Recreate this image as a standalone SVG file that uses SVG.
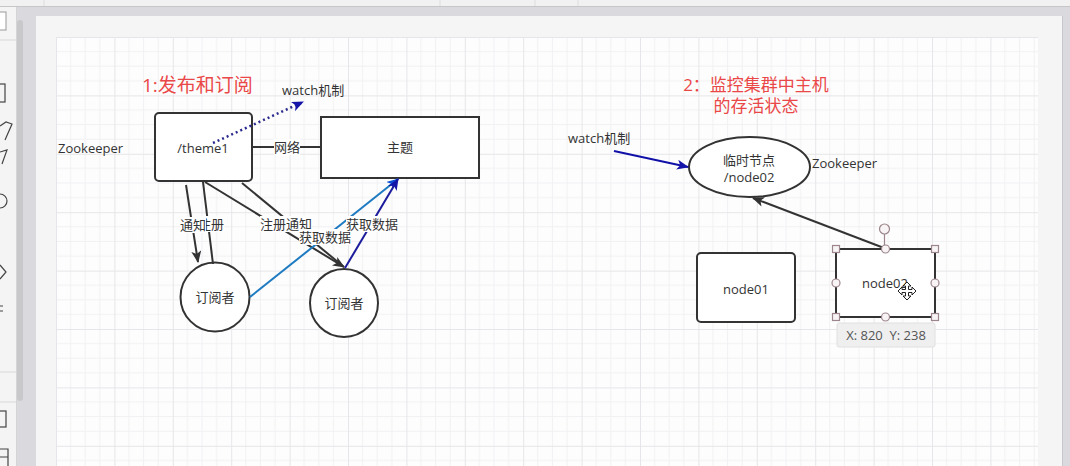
<svg xmlns="http://www.w3.org/2000/svg" width="1070" height="466" viewBox="0 0 1070 466">
<defs>
<style>
text{font-family:"Open Sans","Noto Sans CJK SC",sans-serif;font-size:13px;fill:#333;dominant-baseline:central;text-anchor:middle}
.st{text-anchor:start}
.t1{font-size:19px;fill:#EA4848}
.t2{font-size:17px;fill:#EA4848}
.shape{fill:#fff;stroke:#333;stroke-width:2}
.edge{fill:none;stroke:#333;stroke-width:2}
.blue{stroke:#1f7bc1}
.navy{stroke:#1c1c9c}
.dot{stroke:#2a2a8e;stroke-width:2.5;stroke-dasharray:2 3}
.watch{stroke:#1010a8}
.lbl{fill:#fff}
.h{fill:#f8f3f4;stroke:#9c868b;stroke-width:1.2}
.ui{fill:none;stroke:#444;stroke-width:1.2}
.tip{fill:#555}
</style>
<pattern id="grid" x="56" y="37" width="58.4" height="58.4" patternUnits="userSpaceOnUse">
<path d="M14.6 0V58.4M29.2 0V58.4M43.8 0V58.4M0 14.6H58.4M0 29.2H58.4M0 43.8H58.4" stroke="#f1f1f4" stroke-width="1" fill="none"/>
<path d="M0.5 0V58.4M0 0.5H58.4" stroke="#e6e6ea" stroke-width="1" fill="none"/>
</pattern>
<marker id="aBlack" markerUnits="userSpaceOnUse" markerWidth="12" markerHeight="10" refX="11" refY="5" orient="auto"><path d="M0 0L12 5L0 10L3 5Z" fill="#333"/></marker>
<marker id="aBlue" markerUnits="userSpaceOnUse" markerWidth="12" markerHeight="10" refX="11" refY="5" orient="auto"><path d="M0 0L12 5L0 10L3 5Z" fill="#0a4fd6"/></marker>
<marker id="aNavy" markerUnits="userSpaceOnUse" markerWidth="12" markerHeight="10" refX="11" refY="5" orient="auto"><path d="M0 0L12 5L0 10L3 5Z" fill="#1414a8"/></marker>
</defs>

<!-- editor chrome -->
<g id="chrome">
<rect x="0" y="0" width="1070" height="466" fill="#dadade"/>
<rect x="0" y="0" width="1070" height="6" fill="#f1f1f1"/>
<path d="M0 6.5H1070" stroke="#c6c6c8"/>
<path d="M440 0V6M535 0V6M578 0V6M44 0V6" stroke="#dddddd"/>
<rect x="0" y="7" width="16" height="459" fill="#f4f4f4"/>
<path d="M16.5 7V466" stroke="#d4d4d4"/>
<rect x="17" y="20" width="6" height="381" rx="3" fill="#c8c8ca"/>
<path d="M0 40H16M0 372H16M0 402H16" stroke="#d8d8d8"/>
<rect x="-3" y="12" width="9" height="18" fill="#fff" stroke="#999"/>
<rect x="-4" y="84" width="9" height="18" class="ui"/>
<path d="M0 126L6 122L12 124L5 140" class="ui"/>
<path d="M0 152L7 150L2 164" class="ui"/>
<circle cx="0" cy="201" r="7" class="ui"/>
<path d="M0 265L6 272L0 279" class="ui"/>
<path d="M0 306H3M0 311H3" class="ui"/>
<rect x="-4" y="411" width="10" height="16" class="ui"/>
<path d="M0 449H8V466M0 457H8" class="ui"/>
<rect x="36" y="16" width="1026" height="450" fill="#f5f5f6"/>
<path d="M1062.5 16V466" stroke="#c8c8cc"/>
<rect x="56" y="37" width="982" height="429" fill="#fdfdfd"/>
<rect x="56" y="37" width="982" height="429" fill="url(#grid)"/>
</g>

<!-- free texts -->
<g id="texts">
<text class="st t1" x="142" y="85">1:发布和订阅</text>
<text class="t2" x="756" y="84.5">2：监控集群中主机</text>
<text class="t2" x="756" y="105.5">的存活状态</text>
<text class="st" x="58" y="148">Zookeeper</text>
<text class="st" x="282" y="90">watch机制</text>
<text class="st" x="568" y="138">watch机制</text>
<text class="st" x="812" y="163">Zookeeper</text>
</g>

<!-- nodes -->
<g id="theme1"><rect class="shape" x="155" y="113" width="97" height="68" rx="4"/><text x="203" y="148">/theme1</text></g>
<g id="topic"><rect class="shape" x="321" y="117" width="158" height="61"/><text x="400" y="147">主题</text></g>
<g id="sub1"><circle class="shape" cx="215" cy="297" r="34.5"/><text x="215" y="297">订阅者</text></g>
<g id="sub2"><circle class="shape" cx="344" cy="303" r="34"/><text x="344" y="303">订阅者</text></g>
<g id="ephemeral"><ellipse class="shape" cx="749.5" cy="167" rx="60.5" ry="30"/><text x="749" y="160">临时节点</text><text x="749" y="177">/node02</text></g>
<g id="node01"><rect class="shape" x="697" y="253" width="98" height="69" rx="4"/><text x="746" y="289">node01</text></g>
<g id="node02"><rect class="shape" x="836" y="249" width="99" height="68"/><text x="885" y="283">node02</text></g>

<!-- connectors -->
<g id="connectors">
<path class="edge" d="M252 147H321"/>
<rect class="lbl" x="274" y="139" width="26" height="16"/><text x="287" y="147">网络</text>
<path class="edge" d="M213 264L203 182"/>
<rect class="lbl" x="198" y="216" width="26" height="16"/><text x="211" y="224">注册</text>
<path class="edge" d="M186 185L198 262" marker-end="url(#aBlack)"/>
<rect class="lbl" x="180" y="217" width="26" height="16"/><text x="193" y="225">通知</text>
<path class="edge" d="M205 182L344 267" marker-end="url(#aBlack)"/>
<path class="edge" d="M242 183L344 267"/>
<rect class="lbl" x="260" y="216" width="52" height="16"/><text x="286" y="224">注册通知</text>
<path class="edge blue" d="M250 297L398 179" marker-end="url(#aBlue)"/>
<rect class="lbl" x="299" y="229" width="52" height="16"/><text x="325" y="237">获取数据</text>
<path class="edge navy" d="M345 268L398 179" marker-end="url(#aNavy)"/>
<rect class="lbl" x="346" y="216" width="52" height="16"/><text x="372" y="224">获取数据</text>
<path class="edge dot" d="M213 143L303 102" marker-end="url(#aNavy)"/>
<path class="edge watch" d="M614 151L688 167" marker-end="url(#aNavy)"/>
<path class="edge" d="M884 248L753 198" marker-end="url(#aBlack)"/>
</g>

<!-- selection overlay -->
<g id="selection">
<path d="M884.5 234V245" stroke="#9c868b" stroke-width="1.2"/>
<circle class="h" cx="884.5" cy="229" r="5"/>
<rect class="h" x="832.5" y="245.5" width="7" height="7"/>
<rect class="h" x="931.5" y="245.5" width="7" height="7"/>
<rect class="h" x="832.5" y="313.5" width="7" height="7"/>
<rect class="h" x="931.5" y="313.5" width="7" height="7"/>
<circle class="h" cx="885.5" cy="249" r="4"/>
<circle class="h" cx="885.5" cy="317" r="4"/>
<circle class="h" cx="836" cy="283" r="4"/>
<circle class="h" cx="935" cy="283" r="4"/>
<path d="M907 282l4 4h-2.5v3.5h3.5v-2.5l4 4-4 4v-2.5h-3.5v3.5h2.5l-4 4-4-4h2.5v-3.5h-3.5v2.5l-4-4 4-4v2.5h3.5v-3.5h-2.5z" fill="#fff" stroke="#222" stroke-width="1"/>
<rect x="837" y="323" width="98" height="24" rx="2" fill="#efefef" stroke="#e0e0e0"/>
<text class="tip" x="886" y="335">X: 820 &#160;Y: 238</text>
</g>
</svg>
